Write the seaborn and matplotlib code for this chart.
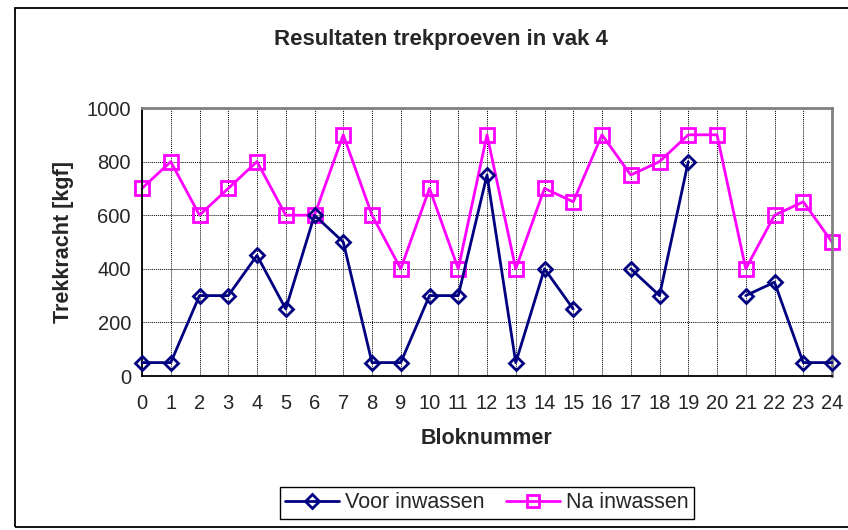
import numpy as np
import pandas as pd
import matplotlib
matplotlib.use("Agg")
import matplotlib.pyplot as plt
import seaborn as sns
from matplotlib.lines import Line2D
from matplotlib.patches import Rectangle

# data
bloknummer = list(range(25))
voor_inwassen = [50, 50, 300, 300, 450, 250, 600, 500, 50, 50, 300, 300, 750, 50,
                 400, 250, np.nan, 400, 300, 800, np.nan, 300, 350, 50, 50]
na_inwassen = [700, 800, 600, 700, 800, 600, 600, 900, 600, 400, 700, 400, 900, 400,
               700, 650, 900, 750, 800, 900, 900, 400, 600, 650, 500]

blue = "#000080"
pink = "#FF00FF"


def segments(values):
    # split a series at missing values so the line shows gaps
    seg, out, prev_nan = 0, [], False
    for v in values:
        if np.isnan(v):
            prev_nan = True
            out.append(np.nan)
            continue
        if prev_nan:
            seg += 1
            prev_nan = False
        out.append(seg)
    return out


df_voor = pd.DataFrame({"blok": bloknummer, "kracht": voor_inwassen,
                        "seg": segments(voor_inwassen)}).dropna()
df_na = pd.DataFrame({"blok": bloknummer, "kracht": na_inwassen,
                      "seg": segments(na_inwassen)}).dropna()

sns.set_style("white")
plt.rcParams["font.family"] = ["Liberation Sans", "DejaVu Sans"]

fig = plt.figure(figsize=(8.48, 5.3), dpi=100)
ax = fig.add_axes([142 / 848, 1 - 376 / 530, (832 - 142) / 848, (376 - 108) / 530])

sns.lineplot(data=df_voor, x="blok", y="kracht", units="seg", estimator=None,
             color=blue, lw=2, marker="D", ms=7, mfc="none", mec=blue, mew=2,
             ax=ax, zorder=3)
sns.lineplot(data=df_na, x="blok", y="kracht", units="seg", estimator=None,
             color=pink, lw=2, marker="s", ms=10, mfc="none", mec=pink, mew=2,
             ax=ax, zorder=2)

ax.set_xlim(0, 24)
ax.set_ylim(0, 1000)
ax.set_xticks(bloknummer)
ax.set_yticks(range(0, 1001, 200))
ax.grid(True, color="black", linestyle=(0, (1, 1)), linewidth=0.7)
ax.tick_params(axis="x", direction="out", length=7, width=1, labelsize=14.5, pad=6)
ax.tick_params(axis="y", direction="inout", length=8, width=1, labelsize=14.5, pad=4)
for side in ["left", "bottom"]:
    ax.spines[side].set_color("black")
    ax.spines[side].set_linewidth(1.3)
for side in ["top", "right"]:
    ax.spines[side].set_color("#808080")
    ax.spines[side].set_linewidth(2)
for sp in ax.spines.values():
    sp.set_visible(True)
for line in ax.lines:
    line.set_clip_on(False)

ax.set_xlabel("Bloknummer", fontsize=15.5, fontweight="bold", labelpad=11)
ax.set_ylabel("Trekkracht [kgf]", fontsize=15.5, fontweight="bold", labelpad=9)
fig.text(441 / 848, 1 - 40 / 530, "Resultaten trekproeven in vak 4",
         ha="center", va="center", fontsize=16, fontweight="bold")

handles = [Line2D([], [], color=blue, lw=2, marker="D", ms=7, mfc="none", mew=2),
           Line2D([], [], color=pink, lw=2, marker="s", ms=9, mfc="none", mew=2)]
fig.legend(handles, ["Voor inwassen", "Na inwassen"], loc="center",
           bbox_to_anchor=(487 / 848, 1 - 503 / 530), ncol=2, fontsize=15.5,
           frameon=True, fancybox=False, edgecolor="black", framealpha=1,
           handlelength=2.5, columnspacing=1.0, handletextpad=0.3, borderpad=0.25)

fig.patches.append(Rectangle((15 / 848, 1 - 527 / 530), 1.0, (527 - 8) / 530,
                             transform=fig.transFigure, fill=False,
                             edgecolor="black", linewidth=1.3))

fig.savefig("out.png", dpi=100)
